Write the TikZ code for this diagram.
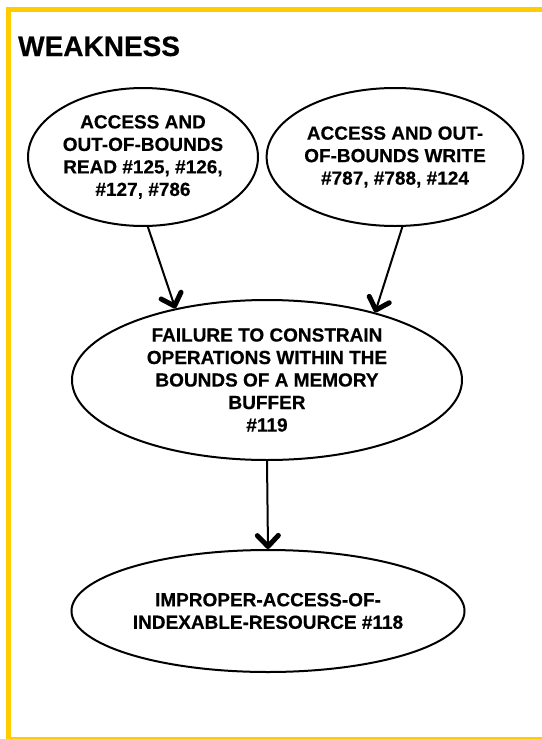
\documentclass[tikz,border=0pt]{standalone}
\usepackage{fontspec}
\setmainfont{Liberation Sans}[BoldFeatures={FakeBold=0.4}]
\usetikzlibrary{shapes.geometric,arrows.meta}
\definecolor{frameyellow}{HTML}{FFCC00}
\tikzset{
  x=1pt,y=1pt,
  bubble/.style={ellipse,draw=black,line width=2pt,inner sep=0pt,align=center,
    font=\fontsize{19}{22.5}\selectfont\bfseries},
  arr/.style={line width=2pt,-{Straight Barb[length=11pt,width=21pt,line width=5pt,round]}},
}
\begin{document}
\begin{tikzpicture}
\useasboundingbox (0,0) rectangle (541,-739);
\fill[white] (0,0) rectangle (541,-739);
\draw[frameyellow,line width=5pt] (8.5,-9.5) rectangle (560,-739.5);
\node[anchor=base west,font=\fontsize{28}{32}\selectfont\bfseries,inner sep=0pt] (title) at (18,-56) {WEAKNESS};
\node[bubble,minimum width=230pt,minimum height=138pt] (e1) at (143,-157)
  {ACCESS AND\\OUT-OF-BOUNDS\\READ \#125, \#126,\\\#127, \#786};
\node[bubble,minimum width=246pt,minimum height=138pt] (e2) at (395,-157)
  {ACCESS AND OUT-\\OF-BOUNDS WRITE\\\#787, \#788, \#124};
\node[bubble,minimum width=390pt,minimum height=160pt] (e3) at (267,-380)
  {FAILURE TO CONSTRAIN\\OPERATIONS WITHIN THE\\BOUNDS OF A MEMORY\\BUFFER\\\#119};
\node[bubble,minimum width=393pt,minimum height=122pt] (e4) at (268,-611)
  {IMPROPER-ACCESS-OF-\\INDEXABLE-RESOURCE \#118};
\draw[arr] (e1.-86) -- (e3.142);
\draw[arr] (e2.-84) -- (e3.32);
\draw[arr] (e3.south) -- (e4.north);
\end{tikzpicture}
\end{document}
